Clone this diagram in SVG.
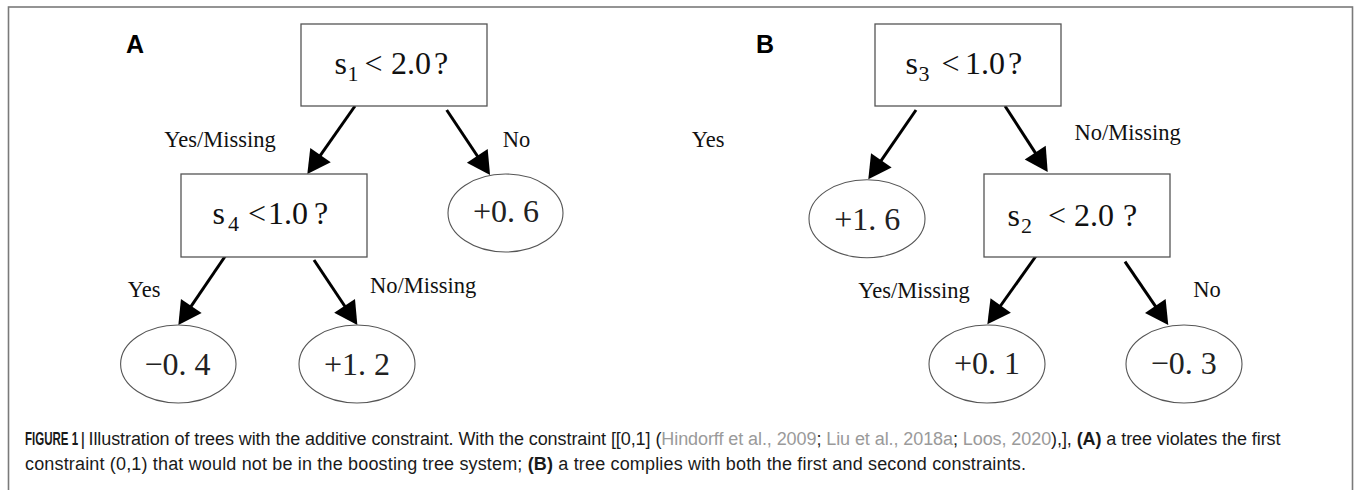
<svg xmlns="http://www.w3.org/2000/svg" width="1354" height="490" viewBox="0 0 1354 490">
<defs>
<style>
.frame{fill:none;stroke:#7a7a7a;stroke-width:1.6}
.box{fill:#fff;stroke:#555;stroke-width:1.3}
.leaf{fill:#fff;stroke:#555;stroke-width:1.1}
.cond{font-family:"Liberation Serif","Times New Roman",serif;font-size:32px;fill:#111}
.sub{font-size:22px}
.val{font-family:"Liberation Serif","Times New Roman",serif;font-size:32px;fill:#222;text-anchor:middle}
.lbl{font-family:"Liberation Serif","Times New Roman",serif;font-size:22.5px;fill:#111}
.panel{font-family:"Liberation Sans",Arial,sans-serif;font-size:25px;font-weight:bold;fill:#000}
.cap{font-family:"Liberation Sans",Arial,sans-serif;font-size:18px;fill:#1a1a1a}
.b{font-weight:bold}
.cite{fill:#9a9a9a}
.edge{stroke:#000;stroke-width:3;fill:none}
</style>
<marker id="ah" markerUnits="userSpaceOnUse" markerWidth="24" markerHeight="26" refX="11" refY="12.5" orient="auto" overflow="visible">
<path d="M0,0 L23,12.5 L0,25 Z" fill="#000"/>
</marker>
</defs>
<rect width="1354" height="490" fill="#fff"/>
<rect class="frame" x="8.5" y="7" width="1344" height="520"/>

<text class="panel" x="126" y="52.7">A</text>
<text class="panel" x="756" y="52.7">B</text>

<g id="connectors">
<line class="edge" x1="355" y1="106" x2="314.2" y2="164.2" marker-end="url(#ah)"/>
<line class="edge" x1="446.7" y1="110" x2="483.4" y2="165" marker-end="url(#ah)"/>
<line class="edge" x1="226" y1="255" x2="185.1" y2="315.1" marker-end="url(#ah)"/>
<line class="edge" x1="314" y1="260" x2="350.7" y2="315" marker-end="url(#ah)"/>
<line class="edge" x1="916" y1="110" x2="875.1" y2="169.4" marker-end="url(#ah)"/>
<line class="edge" x1="1005" y1="106" x2="1041.2" y2="161.9" marker-end="url(#ah)"/>
<line class="edge" x1="1036" y1="256" x2="994.3" y2="314.5" marker-end="url(#ah)"/>
<line class="edge" x1="1125" y1="261.7" x2="1161.5" y2="315.1" marker-end="url(#ah)"/>
<text class="lbl" x="164.3" y="146.7">Yes/Missing</text>
<text class="lbl" x="502.7" y="146.7">No</text>
<text class="lbl" x="127.7" y="297">Yes</text>
<text class="lbl" x="370" y="293.3">No/Missing</text>
<text class="lbl" x="691.7" y="146.7">Yes</text>
<text class="lbl" x="1074.6" y="140">No/Missing</text>
<text class="lbl" x="858.3" y="298.3">Yes/Missing</text>
<text class="lbl" x="1193.3" y="296.7">No</text>
</g>

<g id="nodeA1">
<rect class="box" x="301" y="24" width="186" height="82"/>
<text class="cond" y="74"><tspan x="334.5">s</tspan><tspan class="sub" x="347.5" dy="7">1</tspan><tspan x="364.5" dy="-7">&lt;</tspan><tspan x="391">2.0</tspan><tspan x="434">?</tspan></text>
</g>
<g id="nodeA2">
<rect class="box" x="181" y="174" width="186" height="83"/>
<text class="cond" y="224"><tspan x="212.5">s</tspan><tspan class="sub" x="228" dy="7">4</tspan><tspan x="248" dy="-7">&lt;</tspan><tspan x="268">1.0</tspan><tspan x="314">?</tspan></text>
</g>
<g id="leafA06">
<ellipse class="leaf" cx="505.5" cy="213" rx="57.5" ry="39"/>
<text class="val" x="506" y="222">+0. 6</text>
</g>
<g id="leafAm04">
<ellipse class="leaf" cx="178.3" cy="364" rx="57.7" ry="39"/>
<text class="val" x="177.5" y="374.5">−0. 4</text>
</g>
<g id="leafA12">
<ellipse class="leaf" cx="357" cy="364" rx="58" ry="39"/>
<text class="val" x="357" y="374.5">+1. 2</text>
</g>

<g id="nodeB1">
<rect class="box" x="875" y="24" width="186" height="82"/>
<text class="cond" y="74"><tspan x="905.5">s</tspan><tspan class="sub" x="918.5" dy="7">3</tspan><tspan x="941.5" dy="-7">&lt;</tspan><tspan x="965">1.0</tspan><tspan x="1008">?</tspan></text>
</g>
<g id="nodeB2">
<rect class="box" x="984" y="174" width="186" height="83"/>
<text class="cond" y="226"><tspan x="1007.5">s</tspan><tspan class="sub" x="1021" dy="7">2</tspan><tspan x="1048" dy="-7">&lt;</tspan><tspan x="1074">2.0</tspan><tspan x="1123">?</tspan></text>
</g>
<g id="leafB16">
<ellipse class="leaf" cx="867" cy="218.7" rx="58" ry="39"/>
<text class="val" x="867.3" y="229.5">+1. 6</text>
</g>
<g id="leafB01">
<ellipse class="leaf" cx="987" cy="364" rx="58" ry="39"/>
<text class="val" x="987" y="374">+0. 1</text>
</g>
<g id="leafBm03">
<ellipse class="leaf" cx="1184" cy="364" rx="58" ry="39"/>
<text class="val" x="1183.8" y="373.5">−0. 3</text>
</g>

<g id="caption">
<text class="cap b" transform="translate(25,445) scale(0.64,1)">FIGURE 1 |</text>
<text class="cap" x="88.5" y="445" textLength="1192" lengthAdjust="spacing">Illustration of trees with the additive constraint. With the constraint [[0,1] (<tspan class="cite">Hindorff et al., 2009</tspan>; <tspan class="cite">Liu et al., 2018a</tspan>; <tspan class="cite">Loos, 2020</tspan>),], <tspan class="b">(A)</tspan> a tree violates the first</text>
<text class="cap" x="25" y="469.5" textLength="1001" lengthAdjust="spacing">constraint (0,1) that would not be in the boosting tree system; <tspan class="b">(B)</tspan> a tree complies with both the first and second constraints.</text>
</g>
</svg>
